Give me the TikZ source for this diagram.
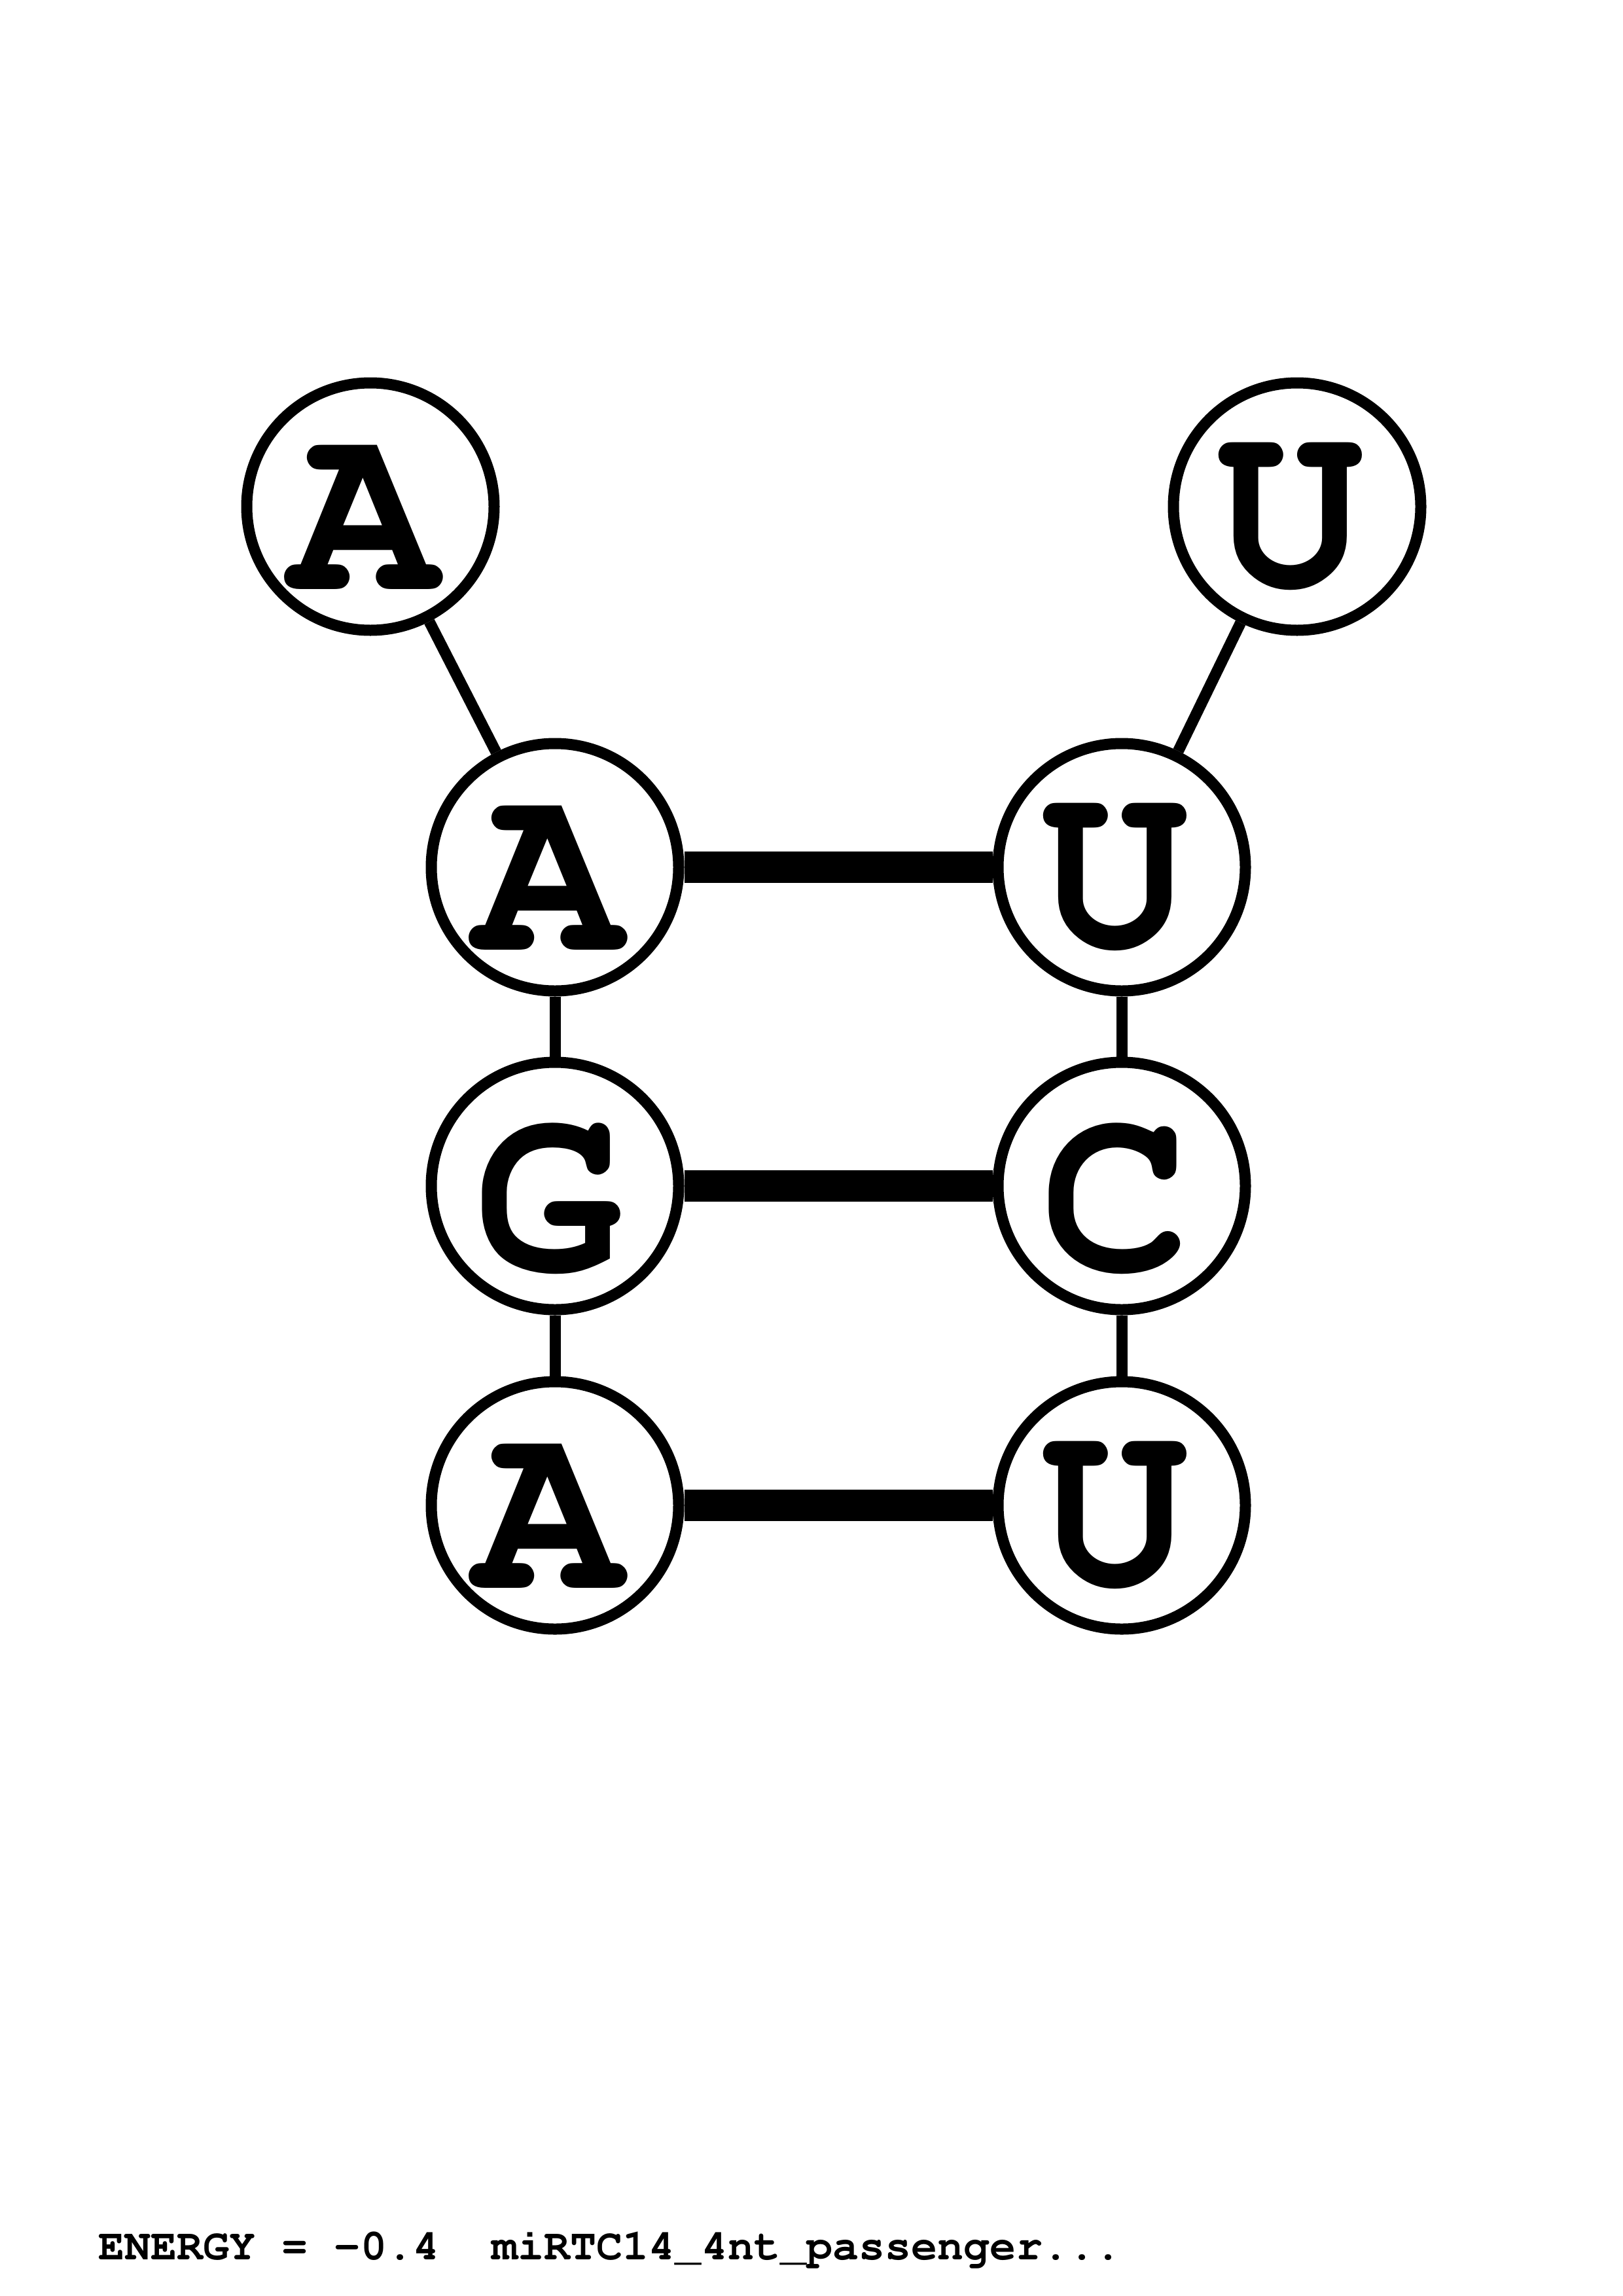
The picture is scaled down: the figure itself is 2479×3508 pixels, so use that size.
\documentclass[tikz,border=0pt]{standalone}
\usepackage[T1]{fontenc}
\begin{document}
\begin{tikzpicture}[x=1pt,y=-1pt,
  nt/.style={circle,draw,line width=17pt,minimum size=378pt,inner sep=0pt,fill=white},
  letter/.style={inner sep=0pt,font=\fontfamily{pcr}\fontseries{b}\fontsize{378}{378}\selectfont},
  backbone/.style={line width=17pt},
  pair/.style={line width=48pt}]
\useasboundingbox[fill=white] (0,0) rectangle (2479,3508);
\node[nt] (n1) at (566,774) {};
\node[nt] (n2) at (848,1325) {};
\node[nt] (n3) at (848,1812) {};
\node[nt] (n4) at (848,2300) {};
\node[nt] (n5) at (1714,2300) {};
\node[nt] (n6) at (1714,1812) {};
\node[nt] (n7) at (1714,1325) {};
\node[nt] (n8) at (1982,774) {};
\draw[backbone] (n1) -- (n2);
\draw[backbone] (n2) -- (n3);
\draw[backbone] (n3) -- (n4);
\draw[backbone] (n5) -- (n6);
\draw[backbone] (n6) -- (n7);
\draw[backbone] (n7) -- (n8);
\draw[pair] (n2) -- (n7);
\draw[pair] (n3) -- (n6);
\draw[pair] (n4) -- (n5);
\node[letter] (l1) at (556,795) {A};
\node[letter] (l2) at (838,1346) {A};
\node[letter] (l3) at (838,1833) {G};
\node[letter] (l4) at (838,2321) {A};
\node[letter] (l5) at (1704,2321) {U};
\node[letter] (l6) at (1704,1833) {C};
\node[letter] (l7) at (1704,1346) {U};
\node[letter] (l8) at (1972,795) {U};
\node[anchor=base west,inner sep=0pt,font=\fontfamily{pcr}\fontseries{b}\fontsize{66.8}{66.8}\selectfont] (title) at (150,3452) {ENERGY = -0.4\ \ miRTC14\_4nt\_passenger...};
\end{tikzpicture}
\end{document}
